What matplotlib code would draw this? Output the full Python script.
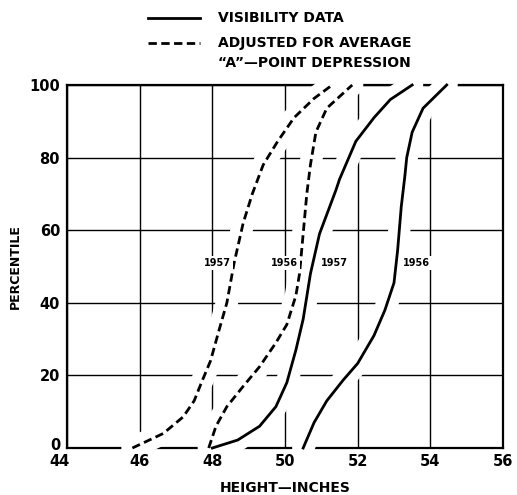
import numpy as np
import matplotlib.pyplot as plt
import matplotlib.transforms as mtransforms
from matplotlib.lines import Line2D
from matplotlib.patches import Rectangle

plt.rcParams['font.family'] = ['DejaVu Sans']
plt.rcParams['font.weight'] = 'bold'

#-----
# curves (height in inches, percentile)
vis_1957_x = [48.0, 48.7, 49.3, 49.75, 50.05, 50.3, 50.5, 50.7, 50.95, 51.4, 51.5, 51.95, 52.45, 52.9, 53.5]
vis_1957_y = [0, 2.2, 6, 11.4, 18, 27, 35.5, 48, 59, 71, 74, 84.5, 91, 96, 100]

vis_1956_x = [50.5, 50.8, 51.15, 51.6, 52.0, 52.45, 52.75, 53.0, 53.1, 53.2, 53.3, 53.35, 53.5, 53.8, 54.45]
vis_1956_y = [0, 7, 13, 18.7, 23.3, 31, 38, 45.5, 54.5, 66.5, 75, 80, 87, 93.6, 100]

adj_1957_x = [45.8, 46.65, 47.2, 47.5, 47.7, 47.95, 48.2, 48.4, 48.6, 48.85, 49.1, 49.4, 49.8, 50.25, 50.8, 51.3]
adj_1957_y = [0, 4, 8.6, 13, 18, 24, 33, 40, 51, 62, 70, 78, 84.5, 91, 96.3, 100]

adj_1956_x = [47.9, 48.1, 48.4, 48.85, 49.3, 49.75, 50.05, 50.3, 50.4, 50.5, 50.6, 50.7, 50.85, 51.15, 51.85]
adj_1956_y = [0, 6, 11.4, 17, 22.4, 29, 34, 42, 48, 59, 70, 78, 87, 93.6, 100]

# curve labels (text, x, y)
curve_labels = [('1957', 48.14, 51), ('1956', 49.99, 51), ('1957', 51.35, 51), ('1956', 53.62, 51)]

x_ticks = [44, 46, 48, 50, 52, 54, 56]
y_ticks = [0, 20, 40, 60, 80, 100]

DASH = (0, (3.0, 1.6))

#-----
fig = plt.figure(figsize=(5.17, 4.95), dpi=100)
ax = fig.add_axes([67/517, 1-448/495, 436/517, 363/495])

ax.set_xlim(44, 56)
ax.set_ylim(0, 100)
ax.set_xticks(x_ticks)
ax.set_yticks(y_ticks)
ax.tick_params(length=0, labelsize=10.5)
ax.tick_params(axis='x', pad=4)
ax.tick_params(axis='y', pad=5)

# first x label sits a bit left, "0" a bit high, as in the original
fig.canvas.draw()
lab44 = ax.get_xticklabels()[0]
lab44.set_transform(lab44.get_transform() + mtransforms.ScaledTranslation(-7/100, 0, fig.dpi_scale_trans))
lab0 = ax.get_yticklabels()[0]
lab0.set_transform(lab0.get_transform() + mtransforms.ScaledTranslation(0, 4/100, fig.dpi_scale_trans))

ax.set_axisbelow(True)
ax.grid(True, color='black', lw=1.0)
for s in ax.spines.values():
    s.set_linewidth(1.6)
    s.set_zorder(1)

curves = [
    (vis_1957_x, vis_1957_y, '-'),
    (vis_1956_x, vis_1956_y, '-'),
    (adj_1957_x, adj_1957_y, DASH),
    (adj_1956_x, adj_1956_y, DASH),
]

# white halo first so the grid (and frame) breaks around each curve
clip = Rectangle((-0.008, -0.01), 1.016, 1.02, transform=ax.transAxes)
for x, y, ls in curves:
    halo, = ax.plot(x, y, color='white', lw=16, solid_capstyle='round', zorder=2)
    halo.set_clip_path(clip)
for x, y, ls in curves:
    ax.plot(x, y, color='black', lw=2.0, linestyle=ls, zorder=3, clip_on=False)

for txt, x, y in curve_labels:
    ax.text(x, y, txt, fontsize=7, fontweight='bold', ha='center', va='center', zorder=4,
            bbox=dict(facecolor='white', edgecolor='none', pad=1.5))

ax.set_xlabel('HEIGHT—INCHES', fontsize=10, fontweight='bold', va='center')
ax.xaxis.set_label_coords(0.5, -0.11)
ax.set_ylabel('PERCENTILE', fontsize=9, fontweight='bold', va='center')
ax.yaxis.set_label_coords(-0.119, 0.5)

# legend
fig.add_artist(Line2D([148/517, 200/517], [1-18/495, 1-18/495], color='black', lw=2.0))
fig.add_artist(Line2D([148/517, 200/517], [1-43/495, 1-43/495], color='black', lw=2.0, linestyle=DASH))
fig.text(218/517, 1-18/495, 'VISIBILITY DATA', fontsize=10, fontweight='bold', va='center', ha='left')
fig.text(218/517, 1-43/495, 'ADJUSTED FOR AVERAGE', fontsize=10, fontweight='bold', va='center', ha='left')
fig.text(218/517, 1-63/495, '“A”—POINT DEPRESSION', fontsize=10, fontweight='bold', va='center', ha='left')

plt.savefig('out.png', dpi=100)
